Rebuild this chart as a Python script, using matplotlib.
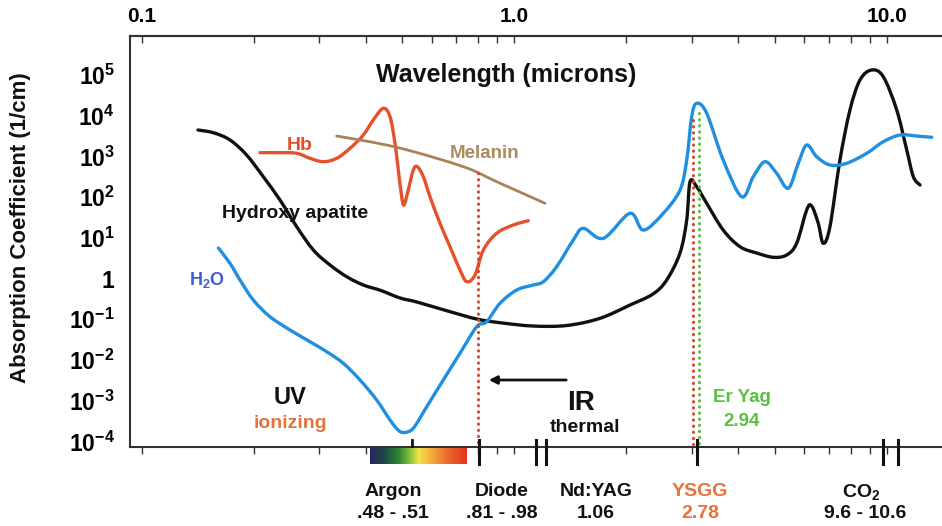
import numpy as np
import matplotlib.pyplot as plt
from matplotlib.colors import LinearSegmentedColormap
import matplotlib.transforms as mtransforms
from matplotlib.ticker import NullLocator
from matplotlib.path import Path
from matplotlib.patches import PathPatch

plt.rcParams['font.family'] = ['Liberation Sans', 'DejaVu Sans']
plt.rcParams['font.weight'] = 'bold'
plt.rcParams['mathtext.fontset'] = 'custom'
plt.rcParams['mathtext.rm'] = 'Liberation Sans:bold'
plt.rcParams['mathtext.bf'] = 'Liberation Sans:bold'
plt.rcParams['mathtext.it'] = 'Liberation Sans:bold:italic'
plt.rcParams['mathtext.sf'] = 'Liberation Sans:bold'
plt.rcParams['mathtext.default'] = 'rm'

# --- data (wavelength in microns, absorption in 1/cm) ---
hap_wl = [0.1416, 0.1557, 0.1726, 0.1913, 0.2120, 0.2351, 0.2607, 0.2889, 0.3202, 0.3551,
          0.3935, 0.4389, 0.4936, 0.5474, 0.6725, 0.7931, 0.9160, 1.123, 1.383, 1.699,
          2.046, 2.358, 2.567, 2.787, 2.905, 2.965, 3.090, 3.287, 3.640, 4.039,
          4.477, 4.962, 5.389, 5.732, 6.098, 6.290, 6.551, 6.756, 7.041, 7.491,
          7.969, 8.479, 9.115, 9.792, 10.64, 11.32, 11.79, 12.29]
hap_abs = [4450, 3820, 2530, 1080, 317, 84.9, 18.7, 5.01, 2.15, 1.107,
           0.692, 0.507, 0.332, 0.265, 0.153, 0.101, 0.082, 0.068, 0.070, 0.105,
           0.223, 0.416, 0.918, 4.23, 27.4, 239, 180, 70.4, 15.5, 6.04,
           4.23, 3.32, 3.78, 7.33, 48.2, 60.4, 22.7, 7.33, 18.7, 816,
           13800, 75400, 132700, 90800, 13800, 1436, 317, 198]

h2o_wl = [0.1606, 0.1726, 0.1836, 0.1993, 0.2210, 0.2501, 0.2830, 0.3137, 0.3478, 0.3855,
          0.4274, 0.4641, 0.4876, 0.5060, 0.5359, 0.5823, 0.6451, 0.7152, 0.7931, 0.8435,
          0.9160, 1.016, 1.125, 1.197, 1.300, 1.441, 1.533, 1.735, 2.046, 2.222,
          2.513, 2.787, 2.905, 2.996, 3.090, 3.287, 3.640, 4.081, 4.384, 4.713,
          5.067, 5.444, 5.789, 6.098, 6.486, 7.041, 7.806, 8.837, 9.792, 10.86,
          12.04, 13.21]
h2o_abs = [5.62, 2.36, 0.918, 0.296, 0.1151, 0.0543, 0.0280, 0.0159, 0.00825, 0.00321,
           0.001034, 0.000334, 0.000190, 0.000165, 0.000209, 0.000708, 0.00321, 0.01453, 0.0654, 0.0868,
           0.246, 0.522, 0.692, 0.834, 1.95, 8.83, 17.1, 9.72, 40.0, 15.5,
           40.0, 149, 816, 9450, 20170, 11460, 816, 102, 317, 741,
           384, 165, 677, 1906, 983, 615, 677, 1192, 2297, 3356,
           3172, 2946]

hb_wl = [0.2078, 0.2351, 0.2607, 0.2830, 0.3072, 0.3338, 0.3624, 0.3935, 0.4184, 0.4452,
         0.4641, 0.4786, 0.4885, 0.4989, 0.5060, 0.5195, 0.5359, 0.5495, 0.5702, 0.5943,
         0.6320, 0.6725, 0.7152, 0.7458, 0.7849, 0.8264, 0.8974, 0.9945, 1.091]
hb_abs = [1233, 1233, 1192, 898, 741, 898, 1581, 3356, 7842, 15200,
          9450, 2098, 463, 102, 64.0, 149, 463, 558, 317, 102,
          22.7, 6.04, 1.62, 0.834, 1.219, 5.01, 12.9, 20.6, 26.3]

mel_wl = [0.3338, 0.4837, 0.7302, 0.8974, 1.210]
mel_abs = [3172, 1673, 558, 239, 70.4]

# laser marker lines: (wavelength, top of dotted line)
diode_line = (0.801, 384)
ysgg_line = (3.015, 7840)
eryag_line = (3.14, 11460)

# ticks on the bottom axis for the lasers
laser_ticks = [0.804, 1.141, 1.217, 3.10, 9.76, 10.74]
argon_tick = 0.531
visible_band = (0.410, 0.746)

laser_names = ['Argon', 'Diode', 'Nd:YAG', 'YSGG', 'CO$_2$']
laser_ranges = ['.48 - .51', '.81 - .98', '1.06', '2.78', '9.6 - 10.6']

y_exps = [-4, -3, -2, -1, 0, 1, 2, 3, 4, 5]

W, H = 942, 526
BLACK = '#111111'
BLUE = '#1f8fe2'
RED = '#e5512c'
BROWN = '#a8835a'
ORANGE = '#e7733b'
GREEN = '#5bbf3f'


def fx(px):
    return px / W


def fy(py):
    return 1 - py / H


def smooth_curve(ax, xs, ys, color, lw):
    # draw a hand-drawn looking line: Catmull-Rom Bezier through the read points,
    # built in log space so it is smooth on screen
    p = np.column_stack([np.log10(xs), np.log10(ys)])
    n = len(p)
    verts = [p[0]]
    codes = [Path.MOVETO]
    for i in range(n - 1):
        p0 = p[i - 1] if i > 0 else p[i]
        p1, p2 = p[i], p[i + 1]
        p3 = p[i + 2] if i + 2 < n else p[i + 1]
        verts += [p1 + (p2 - p0) / 6, p2 - (p3 - p1) / 6, p2]
        codes += [Path.CURVE4] * 3
    path = Path(10 ** np.array(verts), codes)
    ax.add_patch(PathPatch(path, fill=False, edgecolor=color, lw=lw,
                           capstyle='round', joinstyle='round', zorder=4))


fig = plt.figure(figsize=(W / 100, H / 100), dpi=100)
ax = fig.add_axes([fx(130), fy(446.7), fx(941) - fx(130), fy(36) - fy(446.7)])
ax.set_xscale('log')
ax.set_yscale('log')
ax.set_xlim(0.09302, 13.99)
ax.set_ylim(7.37e-5, 9.08e5)

smooth_curve(ax, hap_wl, hap_abs, BLACK, 2.4)
smooth_curve(ax, h2o_wl, h2o_abs, BLUE, 2.4)
smooth_curve(ax, hb_wl, hb_abs, RED, 2.4)
smooth_curve(ax, mel_wl, mel_abs, BROWN, 2.0)

dots = (0, (0.1, 1.9))
ymin = ax.get_ylim()[0]
for (wl, top), col in [(diode_line, '#d9452a'), (ysgg_line, '#d9452a'), (eryag_line, GREEN)]:
    ax.plot([wl, wl], [top, ymin], color=col, lw=2.2, linestyle=dots,
            dash_capstyle='round', zorder=5)

# spines and ticks
for s in ['left', 'bottom', 'top']:
    ax.spines[s].set_linewidth(1.5)
    ax.spines[s].set_color('#333333')
ax.spines['right'].set_visible(False)

ax.set_yticks([10.0 ** e for e in y_exps])
ax.set_yticklabels(['1' if e == 0 else '$10^{%d}$' % e for e in y_exps])
ax.yaxis.set_minor_locator(NullLocator())
ax.tick_params(axis='y', length=0, pad=11, labelsize=16.5)

ax.tick_params(axis='x', which='both', direction='out', length=5, width=1,
               color='#333333', labelbottom=False)

secax = ax.secondary_xaxis('top')
secax.set_xticks([0.1, 1, 10])
secax.set_xticklabels(['0.1', '1.0', '10.0'])
secax.tick_params(which='both', direction='in', length=5, width=1, color='#333333',
                  labelsize=15, pad=7)
secax.spines['top'].set_linewidth(1.5)
secax.spines['top'].set_color('#333333')

# laser ticks crossing the bottom spine
ax_h = (fy(36) - fy(446.7)) * H
blend = mtransforms.blended_transform_factory(ax.transData, ax.transAxes)
for wl in laser_ticks:
    ax.plot([wl, wl], [-17 / ax_h, 7 / ax_h], color='#111111', lw=2.2,
            transform=blend, clip_on=False, zorder=6)
ax.plot([argon_tick, argon_tick], [0, 7 / ax_h], color='#111111', lw=2.0,
        transform=blend, clip_on=False, zorder=6)

# visible spectrum strip under the axis
spec = LinearSegmentedColormap.from_list('spec', [
    (0.0, '#2a2560'), (0.15, '#1f4a48'), (0.3, '#2e8a30'), (0.42, '#8cc43a'),
    (0.5, '#f2e64a'), (0.62, '#f5b03a'), (0.8, '#ec6a2c'), (1.0, '#e0341c')])
x0 = ax.transData.transform((visible_band[0], 1))[0]
x1 = ax.transData.transform((visible_band[1], 1))[0]
bax = fig.add_axes([x0 / W, fy(464), (x1 - x0) / W, (464 - 447.5) / H])
bax.imshow(np.linspace(0, 1, 256)[None, :], cmap=spec, aspect='auto')
bax.set_axis_off()


# text labels
def label(px, py, s, size, color=BLACK, **kw):
    fig.text(fx(px), fy(py), s, ha='center', va='center', fontsize=size,
             color=color, fontweight='bold', **kw)


label(21, 228, 'Absorption Coefficient (1/cm)', 16, rotation=90)
label(506, 75, 'Wavelength (microns)', 18)
label(300, 146, 'Hb', 14, '#e0502a')
label(485, 154, 'Melanin', 13.5, '#ad8b5f')
label(295, 213, 'Hydroxy apatite', 14)
label(207, 280, 'H$_2$O', 13, '#3d5ed8')
label(290, 397, 'UV', 17)
label(290, 423, 'ionizing', 14, ORANGE)
label(581, 403, 'IR', 20)
label(585, 428, 'thermal', 14)
label(742, 397, 'Er Yag', 13.5, GREEN)
label(742, 421, '2.94', 13.5, GREEN)

name_x = [393, 502, 596, 700, 861]
for i, (nm, rg) in enumerate(zip(laser_names, laser_ranges)):
    col = ORANGE if nm == 'YSGG' else BLACK
    label(name_x[i], 492, nm, 14, col)
    label(name_x[i] + (4 if i == 4 else 0), 513, rg, 14, col)

ax.annotate('', xy=(fx(486), fy(380)), xytext=(fx(569), fy(380)),
            xycoords='figure fraction', textcoords='figure fraction',
            arrowprops=dict(arrowstyle='-|>', color=BLACK, lw=2, mutation_scale=12))

fig.savefig('out.png', dpi=100)
